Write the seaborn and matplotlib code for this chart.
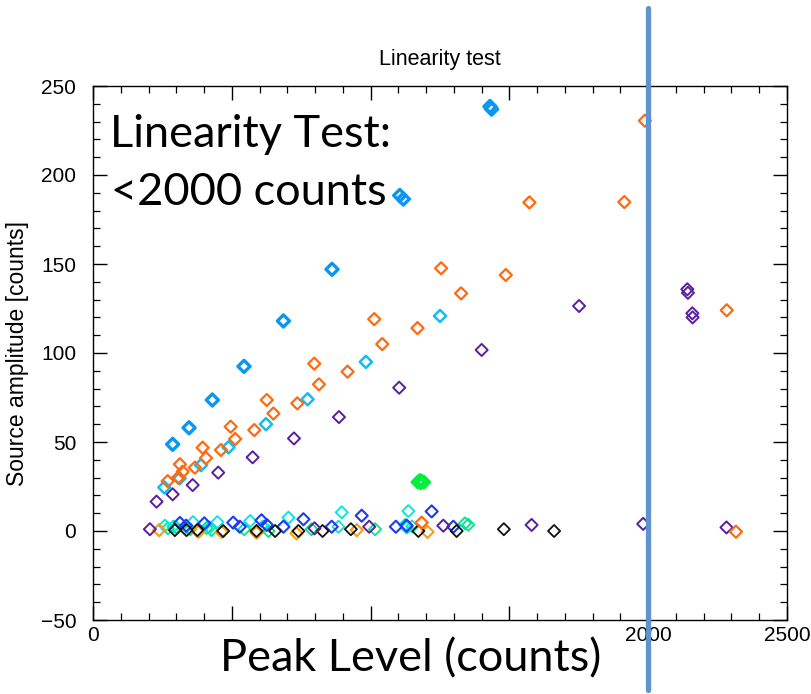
import numpy as np
import pandas as pd
import matplotlib
matplotlib.use("Agg")
import matplotlib.pyplot as plt
from matplotlib.ticker import MultipleLocator
import seaborn as sns

# ---------------- data ----------------
azure_x = [287, 346, 430, 544, 686, 861, 1105, 1118, 1430, 1436]
azure_y = [48.7, 58, 73.6, 92.5, 118, 147, 188.5, 186.5, 238.5, 237]

orange_x = [269, 307, 313, 323, 367, 395, 407, 461, 496, 512, 581, 626, 650, 736,
            797, 814, 917, 1013, 1042, 1169, 1254, 1326, 1487, 1572, 1914, 1988,
            2283, 1184, 2316]
orange_y = [28, 30, 37.5, 33.3, 35.6, 46.8, 41, 45.5, 58.6, 51.7, 56.7, 73.6, 66, 71.7,
            94, 82.4, 89.5, 119, 105, 114, 147.6, 133.5, 143.8, 184.6, 184.8, 230.5,
            124, 4.7, -0.4]

cyan_x = [257, 312, 389, 488, 623, 773, 983, 1250]
cyan_y = [24.5, 29.6, 37, 47, 60, 74, 95, 120.8]

purple_x = [229, 287, 359, 451, 575, 724, 886, 1103, 1400, 1751, 2141, 2143, 2159, 2160,
            205, 798, 995, 1262, 1580, 1982, 2282]
purple_y = [16.5, 20.6, 25.8, 32.8, 41.4, 52, 64, 80.5, 101.7, 126.4, 135.8, 133.8, 122.3, 120,
            1, 1.5, 2.4, 3, 3.4, 4, 2]

lime_x = [1170, 1178, 1185, 1192, 1180]
lime_y = [27.5, 28.5, 28, 27.5, 27]

black_x = [295, 337, 376, 469, 589, 656, 740, 827, 929, 1172, 1310, 1480, 1661]
black_y = [0.5, 0.5, 0.5, 0, 0, 0, 0, 0, 1, 0, 0, 1, 0]

amber_x = [238, 379, 463, 589, 733, 950, 1205]
amber_y = [0.5, -0.5, -0.5, -1, -1.3, 0.5, -0.5]

blue_x = [313, 335, 401, 505, 529, 607, 626, 686, 758, 860, 968, 1091, 1130, 1220, 1298]
blue_y = [4.5, 3, 4.3, 4.7, 2.4, 6, 3.4, 2.4, 6.6, 2.4, 8.6, 2.4, 3, 11, 2.4]

turq_x = [259, 290, 330, 360, 420, 448, 566, 612, 704, 884, 896, 1124, 1136, 1150]
turq_y = [3, 2.5, 1.5, 5, 2, 5, 5.6, 2.5, 7.5, 2.4, 10.5, 3.4, 11.2, 2.5]

spring_x = [270, 300, 350, 409, 427, 545, 632, 787, 1016, 1130, 1340, 1352]
spring_y = [1.5, 2, 1, 1.7, 0.5, 1, 0, 1, 1, 2, 4.3, 3.5]

x_ticks = [0, 500, 1000, 1500, 2000, 2500]
x_tick_labels = ["0", "", "", "", "2000", "2500"]
y_ticks = [-50, 0, 50, 100, 150, 200, 250]

# ---------------- style ----------------
sns.set_theme(style="ticks", rc={
    "xtick.direction": "in", "ytick.direction": "in",
    "xtick.top": True, "ytick.right": True,
    "xtick.major.size": 10, "ytick.major.size": 10,
    "xtick.minor.size": 5, "ytick.minor.size": 5,
    "xtick.major.width": 1.0, "ytick.major.width": 1.0,
    "xtick.minor.width": 0.9, "ytick.minor.width": 0.9,
    "xtick.color": "black", "ytick.color": "black",
    "axes.edgecolor": "black", "axes.linewidth": 1.0,
})
plt.rcParams["font.family"] = ["Liberation Sans", "DejaVu Sans"]

fig = plt.figure(figsize=(8.12, 6.94), dpi=100)
ax = fig.add_axes([93 / 812, 1 - 620 / 694, (787 - 93) / 812, (620 - 86) / 694])

series = [
    (spring_x, spring_y, "#00e68a", 1.3),
    (turq_x, turq_y, "#00e5dc", 1.3),
    (blue_x, blue_y, "#1a3cf2", 1.5),
    (amber_x, amber_y, "#ff9a14", 1.5),
    (black_x, black_y, "#111111", 1.3),
    (purple_x, purple_y, "#5a1e9e", 1.4),
    (cyan_x, cyan_y, "#12bdf0", 1.8),
    (orange_x, orange_y, "#ff6a10", 1.6),
    (azure_x, azure_y, "#0c96f2", 2.4),
    (lime_x, lime_y, "#00ee3c", 1.8),
]
for xs, ys, col, lw in series:
    sns.scatterplot(x=xs, y=ys, marker="D", s=38, color=col, facecolor="none",
                    edgecolor=col, linewidth=lw, ax=ax, zorder=3)

ax.set_xlim(0, 2500)
ax.set_ylim(-50, 250)
ax.set_xticks(x_ticks)
ax.set_xticklabels(x_tick_labels)
ax.set_yticks(y_ticks)
ax.xaxis.set_minor_locator(MultipleLocator(100))
ax.yaxis.set_minor_locator(MultipleLocator(10))
ax.tick_params(which="both", direction="in", top=True, right=True, bottom=True, left=True,
               color="black")
ax.tick_params(which="major", length=10, width=1.0)
ax.tick_params(which="minor", length=5, width=0.9)
ax.tick_params(axis="y", which="major", labelsize=15, pad=12, labelcolor="black")
ax.tick_params(axis="x", which="major", labelsize=15, pad=4, labelcolor="black")
for sp in ax.spines.values():
    sp.set_color("black")
    sp.set_linewidth(1.0)
    sp.set_visible(True)

ax.set_title("Linearity test", fontsize=15.5, pad=15, color="black")
ax.set_ylabel("Source amplitude [counts]", fontsize=16.5, color="black")
ax.yaxis.set_label_coords(-0.092, 0.5)
ax.set_xlabel("Peak Level (counts)", fontsize=32.5, family=["Lato", "DejaVu Sans"], color="black")
ax.xaxis.set_label_coords((411 - 93) / 694, -0.035)

fig.text(110 / 812, 1 - 147 / 694, "Linearity Test:", fontsize=32.5,
         family=["Lato", "DejaVu Sans"], va="baseline", ha="left", color="black")
fig.text(111 / 812, 1 - 205 / 694, "<2000 counts", fontsize=32.5,
         family=["Lato", "DejaVu Sans"], va="baseline", ha="left", color="black")

ax.axvline(2000, ymin=(620 - 690) / 534, ymax=(620 - 8) / 534, clip_on=False,
           color="#5f93cf", lw=3.8, zorder=10)

fig.savefig("out.png", dpi=100)
